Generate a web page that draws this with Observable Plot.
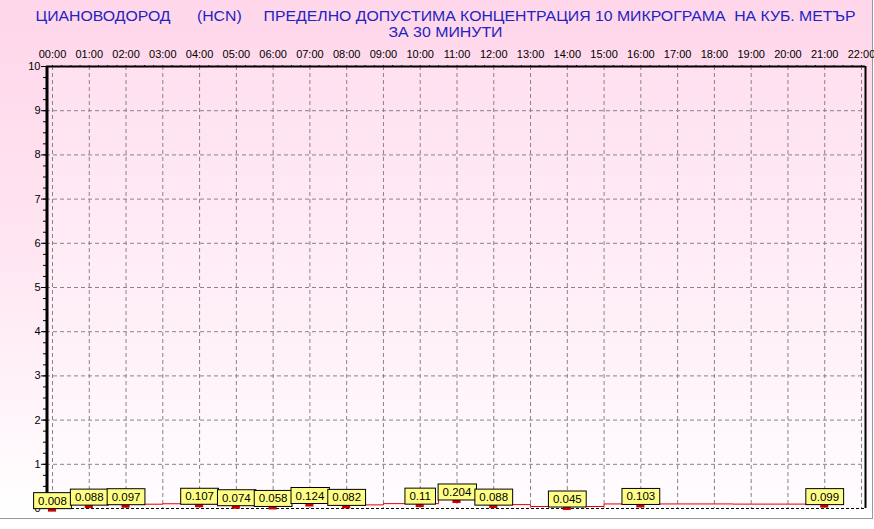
<!DOCTYPE html>
<html><head><meta charset="utf-8">
<script src="https://cdn.jsdelivr.net/npm/d3@7"></script>
<script src="https://cdn.jsdelivr.net/npm/@observablehq/plot@0.6"></script>
<style>
html,body{margin:0;padding:0;background:#fff;}
#wrap{position:relative;width:874px;height:529px;background:#fff;overflow:hidden;}
#bg{position:absolute;left:0;top:0;width:872px;height:518px;border-right:1px solid #9a9a9a;border-bottom:1px solid #9a9a9a;background:linear-gradient(to bottom,#ffd6ea 0%,#ffe4f1 45%,#ffffff 100%);}
#chart{position:absolute;left:0;top:0;}
#chart svg text{white-space:pre;}
</style></head><body>
<div id="wrap"><div id="bg"></div><div id="chart"></div></div>
<script>
// ---- data ----
const hours  = [0, 1, 2, 4, 5, 6, 7, 8, 10, 11, 12, 14, 16, 21];
const values = [0.008, 0.088, 0.097, 0.107, 0.074, 0.058, 0.124, 0.082, 0.11, 0.204, 0.088, 0.045, 0.103, 0.099];
const valueLabels = ["0.008","0.088","0.097","0.107","0.074","0.058","0.124","0.082","0.11","0.204","0.088","0.045","0.103","0.099"];
const hourTicks = [0,1,2,3,4,5,6,7,8,9,10,11,12,13,14,15,16,17,18,19,20,21,22];
const hourLabels = ["00:00","01:00","02:00","03:00","04:00","05:00","06:00","07:00","08:00","09:00","10:00","11:00","12:00","13:00","14:00","15:00","16:00","17:00","18:00","19:00","20:00","21:00","22:00"];
const yTicks = [0,1,2,3,4,5,6,7,8,9,10];
const yGrid = [1,2,3,4,5,6,7,8,9];
const yMinor = d3.range(0, 10.001, 0.25);
const xMinor = d3.range(0, 22.001, 0.25);
const title1 = "ЦИАНОВОДОРОД      (HCN)     ПРЕДЕЛНО ДОПУСТИМА КОНЦЕНТРАЦИЯ 10 МИКРОГРАМА  НА КУБ. МЕТЪР";
const title2 = "ЗА 30 МИНУТИ";

const xDomain = [-0.163, 22.109];
const data = hours.map((h, i) => ({h, v: values[i], label: valueLabels[i]}));

const chart = Plot.plot({
  width: 874, height: 529,
  marginLeft: 46, marginRight: 9, marginTop: 66, marginBottom: 21,
  style: {background: "transparent", fontFamily: "'Liberation Sans', Arial, sans-serif", fontSize: "11px", overflow: "visible", color: "#000"},
  x: {domain: xDomain, axis: null},
  y: {domain: [0, 10], axis: null},
  marks: [
    Plot.frame({fill: "url(#plotGrad)", stroke: "none"}),
    Plot.ruleY(yGrid, {stroke: "#858585", strokeDasharray: "4,3"}),
    Plot.ruleX(hourTicks, {stroke: "#858585", strokeDasharray: "4,3"}),
    Plot.ruleY([0], {stroke: "#000", strokeDasharray: "3,2"}),
    Plot.ruleY([10], {stroke: "#000", strokeWidth: 2}),
    Plot.ruleX([xDomain[1]], {stroke: "#000", strokeWidth: 2}),
    Plot.ruleX([xDomain[0]], {stroke: "#000", strokeWidth: 3, dx: 0.5}),
    Plot.axisY({ticks: yMinor, anchor: "left", label: null, tickSize: 3, tickFormat: () => "", stroke: "#000"}),
    Plot.axisY({ticks: yTicks, anchor: "left", label: null, tickSize: 5, tickPadding: 1, fontSize: 11, fill: "#000", stroke: "#000"}),
    Plot.axisX({ticks: xMinor, anchor: "top", label: null, tickSize: 2, tickFormat: () => "", stroke: "#000"}),
    Plot.axisX({ticks: hourTicks, anchor: "top", label: null, tickSize: 0, tickPadding: 9, fontSize: 11, fill: "#000", tickFormat: h => hourLabels[h]}),
    Plot.line(data, {x: "h", y: "v", curve: "step", stroke: "#e00000", strokeWidth: 1}),
    Plot.rect(data, {x1: d => d.h - 0.11, x2: d => d.h + 0.11, y1: "v", y2: "v", insetBottom: -4, fill: "#d00000"}),
    Plot.text(data, {x: "h", y: "v", text: "label", lineAnchor: "bottom", dy: -3.5, fontSize: 11.5, fill: "#000", ariaDescription: "value-labels"}),
    Plot.text([title1], {frameAnchor: "top", text: d => d, dx: -10.5, dy: -50, lineAnchor: "middle", fontSize: 15, fill: "#2323c0", ariaDescription: "title1"}),
    Plot.text([title2], {frameAnchor: "top", text: d => d, dx: -10.5, dy: -34, lineAnchor: "middle", fontSize: 15, fill: "#2323c0", ariaDescription: "title2"})
  ]
});

document.getElementById("chart").append(chart);
const svg = d3.select(chart);
const defs = svg.insert("defs", ":first-child");
const grad = defs.append("linearGradient").attr("id", "plotGrad").attr("x1", 0).attr("y1", 0).attr("x2", 0).attr("y2", 1);
grad.append("stop").attr("offset", "0%").attr("stop-color", "#ffe0f0");
grad.append("stop").attr("offset", "100%").attr("stop-color", "#fffcfe");

function groupOf(desc) {
  return svg.selectAll("g").filter(function() { return this.getAttribute("aria-description") === desc; });
}
groupOf("value-labels").selectAll("text").each(function() {
  const b = this.getBBox();
  const padX = 4.5, padY = 2;
  d3.select(this.parentNode).insert("rect", () => this)
    .attr("x", b.x - padX).attr("y", b.y - padY)
    .attr("width", b.width + 2 * padX).attr("height", b.height + 2 * padY)
    .attr("transform", this.getAttribute("transform"))
    .attr("fill", "#ffff86").attr("stroke", "#000").attr("stroke-width", 1);
});
groupOf("title1").selectAll("text").attr("textLength", 820).attr("lengthAdjust", "spacingAndGlyphs");
groupOf("title2").selectAll("text").attr("textLength", 114).attr("lengthAdjust", "spacingAndGlyphs");
</script>
</body></html>
